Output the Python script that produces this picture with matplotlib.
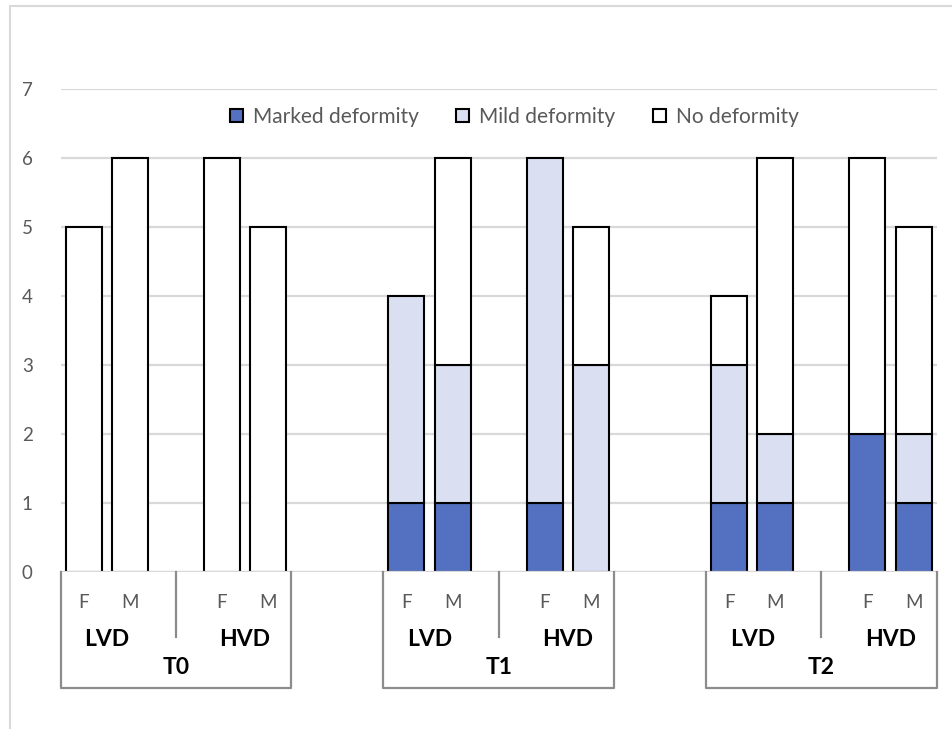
"""Stacked bar chart: deformity counts by time, vessel density group and sex."""

import matplotlib.pyplot as plt
import matplotlib.transforms as mtransforms
from matplotlib.lines import Line2D
from matplotlib.patches import Rectangle

plt.rcParams["font.family"] = ["Lato", "DejaVu Sans"]

# DATOS
times = ["T0", "T1", "T2"]
groups = ["LVD", "HVD"]
sexes = ["F", "M"]
series_names = ["Marked deformity", "Mild deformity", "No deformity"]
marked = [0, 0, 0, 0, 1, 1, 1, 0, 1, 1, 2, 1]
mild = [0, 0, 0, 0, 3, 2, 5, 3, 2, 1, 0, 1]
no_def = [5, 6, 6, 5, 0, 3, 0, 2, 1, 4, 4, 3]
y_ticks = [0, 1, 2, 3, 4, 5, 6, 7]

colors = ["#5470C0", "#DAE0F1", "#FFFFFF"]
GRAY_TXT = "#595959"
W, H = 952, 729


def fy(py):
    return 1 - py / H


# posiciones: un hueco entre LVD y HVD, dos entre tiempos
slots = []
for t in range(len(times)):
    for g in range(len(groups)):
        for s in range(len(sexes)):
            slots.append(t * 7 + g * 3 + s)

fig = plt.figure(figsize=(W / 100, H / 100), dpi=100)
ax = fig.add_axes([60.65 / W, fy(572), (936.6 - 60.65) / W, (572 - 89) / H])

# borde exterior del gráfico
fig.patches.append(Rectangle((10 / W, -0.05), 1.0, fy(6) + 0.05, transform=fig.transFigure,
                             fill=False, edgecolor="#D9D9D9", linewidth=1.5))

bottom = [0] * len(slots)
for name, values, color in zip(series_names, [marked, mild, no_def], colors):
    for i, v in enumerate(values):
        if v > 0:
            ax.bar(slots[i], v, bottom=bottom[i], width=0.78, color=color,
                   edgecolor="black", linewidth=1.5, zorder=3)
        bottom[i] += v

ax.set_xlim(-0.5, 18.5)
ax.set_ylim(0, 7)
ax.set_yticks(y_ticks)
ax.yaxis.grid(True, color="#D9D9D9", linewidth=1.6, zorder=0)
ax.set_axisbelow(True)
for sp in ax.spines.values():
    sp.set_visible(False)
ax.tick_params(axis="y", length=0, pad=20, labelsize=13.5, labelcolor=GRAY_TXT)
ax.set_xticks([])
ax.axhline(0, color="#D9D9D9", linewidth=1.6, zorder=4)

# eje de categorías multinivel
trans = mtransforms.blended_transform_factory(ax.transData, fig.transFigure)
line_kw = dict(color="#8C8C8C", linewidth=1.6, transform=trans, clip_on=False)
for i, x in enumerate(slots):
    ax.text(x, fy(603), sexes[i % 2], transform=trans, ha="center", va="center",
            fontsize=13.5, color=GRAY_TXT)
for t, tname in enumerate(times):
    first = slots[t * 4]
    last = slots[t * 4 + 3]
    left, right = first - 0.5, last + 0.5
    mid = (slots[t * 4 + 1] + slots[t * 4 + 2]) / 2
    fig.add_artist(Line2D([left, left, right, right], [fy(572), fy(688), fy(688), fy(572)], **line_kw))
    fig.add_artist(Line2D([mid, mid], [fy(572), fy(637)], **line_kw))
    for g, gname in enumerate(groups):
        gx = (slots[t * 4 + g * 2] + slots[t * 4 + g * 2 + 1]) / 2
        ax.text(gx, fy(640), gname, transform=trans, ha="center", va="center",
                fontsize=16.5, fontweight="bold", color="black")
    ax.text((first + last) / 2, fy(668), tname, transform=trans, ha="center", va="center",
            fontsize=16.5, fontweight="bold", color="black")

handles = [Rectangle((0, 0), 1, 1, facecolor=c, edgecolor="black", linewidth=1.5) for c in colors]
fig.legend(handles, series_names, loc="center", bbox_to_anchor=(514.5 / W, fy(117)), ncol=3,
           frameon=False, handlelength=0.62, handleheight=0.62, handletextpad=0.48,
           columnspacing=1.8, fontsize=15, labelcolor=GRAY_TXT)

fig.savefig("out.png", dpi=100)
